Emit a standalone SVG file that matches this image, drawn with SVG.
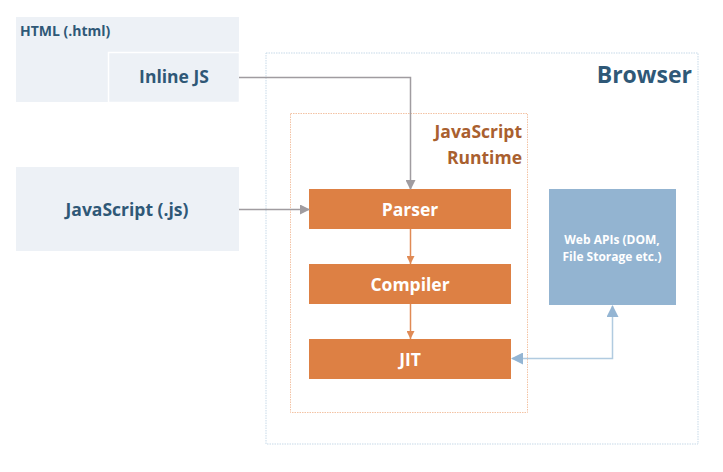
<svg xmlns="http://www.w3.org/2000/svg" width="723" height="472" viewBox="0 0 723 472">
<style>
text{font-family:"Open Sans","Liberation Sans",sans-serif;font-weight:bold}
.lb{fill:#2f5877}
.wt{fill:#ffffff;text-anchor:middle}
.orange{fill:#dd8044}
</style>
<defs>
<marker id="ag" markerWidth="10" markerHeight="10" refX="9" refY="5" orient="auto" markerUnits="userSpaceOnUse"><path d="M0,0 L10,5 L0,10 z" fill="#a09ca0"/></marker>
<marker id="ao" markerWidth="8" markerHeight="8" refX="8" refY="4" orient="auto" markerUnits="userSpaceOnUse"><path d="M0,0 L8,4 L0,8 z" fill="#e08a55"/></marker>
<marker id="ab" markerWidth="12" markerHeight="12" refX="11" refY="6" orient="auto-start-reverse" markerUnits="userSpaceOnUse"><path d="M0,0 L12,6 L0,12 z" fill="#94b5d3"/></marker>
</defs>
<rect width="723" height="472" fill="#ffffff"/>
<g id="browser">
<rect x="266" y="53" width="432" height="391" fill="none" stroke="#c7d9e8" stroke-dasharray="1.5,1"/>
<text x="692" y="83" font-size="23" text-anchor="end" fill="#2f5877">Browser</text>
</g>
<g id="runtime">
<rect x="290.5" y="113.5" width="237" height="299" fill="none" stroke="#f3c3a4" stroke-dasharray="1.5,1"/>
<text x="522" y="138" font-size="17.5" text-anchor="end" fill="#a9602f">JavaScript</text>
<text x="522" y="164" font-size="17.5" text-anchor="end" fill="#a9602f">Runtime</text>
</g>
<g id="html">
<rect x="16" y="17" width="223" height="85" fill="#edf1f6"/>
<text x="20" y="36" font-size="14" class="lb">HTML (.html)</text>
</g>
<g id="inline-js">
<rect x="108.5" y="52.5" width="131" height="50" fill="#edf1f6" stroke="#ffffff" stroke-width="1.5"/>
<text x="174" y="83" font-size="17.5" class="lb" text-anchor="middle">Inline JS</text>
</g>
<g id="javascript-file">
<rect x="16" y="167" width="223" height="84" fill="#edf1f6"/>
<text x="127" y="216" font-size="17.5" class="lb" text-anchor="middle">JavaScript (.js)</text>
</g>
<g id="parser">
<rect x="309" y="189" width="202" height="40" class="orange"/>
<text x="410" y="216" font-size="17.5" class="wt">Parser</text>
</g>
<g id="compiler">
<rect x="309" y="264" width="202" height="40" class="orange"/>
<text x="410" y="291" font-size="17.5" class="wt">Compiler</text>
</g>
<g id="jit">
<rect x="309" y="339" width="202" height="40" class="orange"/>
<text x="410" y="366" font-size="17.5" class="wt">JIT</text>
</g>
<g id="web-apis">
<rect x="549" y="189" width="127" height="116" fill="#93b4d1"/>
<text x="612" y="244" font-size="12" class="wt">Web APIs (DOM,</text>
<text x="612" y="261" font-size="12" class="wt">File Storage etc.)</text>
</g>
<g id="connectors" fill="none">
<path d="M239,77.5 H410.5 V189" stroke="#a09ca0" stroke-width="1.5" marker-end="url(#ag)"/>
<path d="M239,209.5 H309" stroke="#a09ca0" stroke-width="1.5" marker-end="url(#ag)"/>
<path d="M410.5,229 V264" stroke="#e08a55" stroke-width="1.5" marker-end="url(#ao)"/>
<path d="M410.5,304 V339" stroke="#e08a55" stroke-width="1.5" marker-end="url(#ao)"/>
<path d="M612.5,306 V358.5 H512" stroke="#b1cbe0" stroke-width="1.5" marker-start="url(#ab)" marker-end="url(#ab)"/>
</g>
</svg>
